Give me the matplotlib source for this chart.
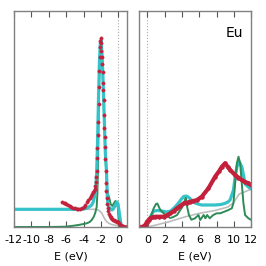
import numpy as np
import matplotlib
matplotlib.use("Agg")
import matplotlib.pyplot as plt

# ---- valence band (left panel) ----
# experiment (red dots)
e_exp_vb = [-6.45, -6.3, -6.15, -6.0, -5.8, -5.6, -5.4, -5.2, -5.0, -4.8, -4.6, -4.4, -4.2, -4.0,
            -3.8, -3.6, -3.45, -3.3, -3.15, -3.0, -2.9, -2.8, -2.72, -2.65, -2.58, -2.53, -2.49,
            -2.45, -2.42, -2.37, -2.33, -2.28, -2.24, -2.20, -2.16, -2.12, -2.08, -2.04, -2.0,
            -1.96, -1.92, -1.87, -1.83, -1.79, -1.75, -1.71, -1.67, -1.63, -1.59, -1.55, -1.51,
            -1.47, -1.43, -1.39, -1.35, -1.30, -1.25, -1.2, -1.1, -1.0, -0.9, -0.8, -0.7, -0.6,
            -0.5, -0.4, -0.3, -0.2, -0.1, 0.0, 0.1, 0.2, 0.3, 0.4, 0.5, 0.6, 0.7, 0.8, 0.9, 1.0]
i_exp_vb = [25, 24, 23.7, 23, 22, 21.2, 20.3, 19.5, 19, 18.2, 17.7, 18, 19, 20.5,
            22.5, 25, 27, 29.5, 31.5, 33.5, 35, 36.5, 38.5, 41, 45, 50, 56,
            69, 79, 92, 105, 123, 140, 156, 170, 180, 186, 189, 184,
            176, 170, 163, 155, 144, 137, 127, 112, 99, 90, 80, 68,
            56, 44, 36, 29, 23, 19, 16, 13, 11, 10, 9, 8.3, 7.5,
            6.8, 6, 5.6, 5.4, 5.3, 5, 3.8, 2.4, 1.6, 1.1, 0.7, 0.5, 0.3, 0.2, 0.1, 0.1]

# theory total (cyan)
e_tot_vb = [-12, -6, -5, -4.5, -4.0, -3.6, -3.3, -3.07, -2.9, -2.76, -2.6, -2.5, -2.4, -2.3,
            -2.2, -2.1, -2.0, -1.9, -1.8, -1.7, -1.6, -1.5, -1.4, -1.33, -1.28, -1.2, -1.1,
            -0.95, -0.75, -0.6, -0.45, -0.3, -0.17, -0.05, 0.1, 0.2, 0.3, 0.5, 1.0]
i_tot_vb = [17.7, 17.7, 17.7, 17.7, 18, 19, 20.5, 22, 25, 30, 40, 55, 85, 125,
            160, 182, 187, 175, 155, 128, 100, 73, 60, 45, 30, 22, 20,
            18.7, 17, 18, 20.3, 22.5, 25, 23, 14, 8, 2, 0, 0]

# theory spectral (green)
e_pes_vb = [-12, -8, -6.15, -5.4, -4.61, -4.0, -3.64, -3.3, -3.07, -2.85, -2.68, -2.5, -2.42,
            -2.35, -2.3, -2.2, -2.1, -2.02, -1.9, -1.8, -1.7, -1.6, -1.5, -1.4, -1.3, -1.2,
            -1.05, -0.9, -0.7, -0.5, -0.35, -0.2, -0.08, 0.02, 0.1, 1.0]
i_pes_vb = [0, 0, 0.3, 1, 2, 3, 3.7, 5, 7, 10, 13.7, 20, 33,
            60, 95, 150, 180, 186, 170, 150, 125, 98, 72, 52, 38, 33,
            29, 23, 21, 24, 26, 23, 20, 8, 0, 0]

# background (gray)
e_bg_vb = [-12, -2.6, -2.3, -2.1, -1.9, -1.7, -1.5, -1.3, -1.1, -0.8, -0.5, -0.2, 0.1, 0.4, 1.0]
i_bg_vb = [17.7, 17.7, 17, 15.5, 13.7, 10, 7, 5, 3.7, 2.5, 2, 1.5, 0.8, 0.3, 0]

# ---- conduction band (right panel) ----
e_exp_cb = [-1, -0.7, -0.42, -0.2, -0.04, 0.15, 0.34, 0.6, 0.92, 1.4, 1.89, 2.3, 2.65, 3.05,
            3.43, 3.8, 4.2, 4.6, 4.97, 5.3, 5.74, 6.28, 7.05, 7.82, 8.3, 8.6, 8.98, 9.3, 9.55,
            10.13, 10.5, 10.9, 11.3, 11.67, 12]
i_exp_cb = [0, 0, 0.7, 2.5, 5.3, 7, 8.7, 9.8, 10.3, 10.3, 10.3, 11.8, 13.7, 16,
            18.7, 21, 23.7, 24.5, 25.3, 26, 27, 30.3, 38.7, 50.3, 56, 60.3, 63.7, 60, 57,
            52, 49.5, 47, 45, 43.7, 42]

e_tot_cb = [-1, -0.5, -0.04, 0.34, 0.73, 1.2, 1.7, 2.2, 2.7, 3.2, 3.6, 3.93, 4.2, 4.5, 4.8,
            5.08, 5.5, 6.05, 6.28, 7.0, 7.82, 8.5, 8.98, 9.3, 9.55, 9.94, 10.13, 10.33, 10.6,
            10.9, 11.09, 11.28, 11.67, 12]
i_tot_cb = [0, 0, 0.5, 10, 16, 16.5, 16, 15, 16, 20, 24, 28, 30.5, 31, 29.5,
            27, 24, 22.5, 22, 22, 22, 22.5, 23.7, 25, 27, 37, 50, 60, 65.3,
            60.3, 52, 43, 40, 38]

e_pes_cb = [-1, -0.1, 0.3, 0.73, 1.0, 1.15, 1.5, 2.08, 2.65, 3.0, 3.43, 3.8, 4.1, 4.3, 4.43,
            4.6, 4.8, 5.08, 5.5, 5.9, 6.1, 6.5, 6.7, 6.9, 7.2, 7.6, 8.0, 8.4, 8.8, 9.36, 9.75,
            9.94, 10.13, 10.33, 10.52, 10.71, 10.9, 11.09, 11.28, 11.67, 12]
i_pes_cb = [0, 0.5, 8, 18.7, 23, 23.5, 17, 12, 9, 10, 12, 17, 21, 26, 29,
            20, 12, 7.3, 8.7, 12, 7, 12, 8.7, 12, 8.7, 12, 13.7, 13.7, 15, 17, 18.7,
            24, 43.7, 63.7, 70.3, 63.7, 43.7, 23.7, 12, 8.7, 7]

e_bg_cb = [-1, 0, 1, 2.4, 4.3, 5.9, 7.8, 9.3, 9.9, 10.3, 10.6, 11.2, 12]
i_bg_cb = [0, 0, 2, 5, 10, 13.5, 16.5, 20, 24, 29, 33, 35, 38]

cyan = "#35c3c9"
green = "#2e8b57"
red = "#c3203c"
gray = "#bdbdbd"
spine = "#808080"

fig = plt.figure(figsize=(2.66, 2.66), dpi=100)
ax1 = fig.add_axes([0.0526, 0.1466, 0.4244, 0.812])
ax2 = fig.add_axes([0.5214, 0.1466, 0.4234, 0.812])

def style(ax, xlim, ticks):
    ax.set_xlim(*xlim)
    ax.set_ylim(0, 216)
    ax.set_xticks(ticks)
    ax.set_xticklabels([str(t) for t in ticks])
    ax.set_yticks([])
    ax.tick_params(axis="x", direction="in", top=True, length=4, width=0.8,
                   color="#555555", labelsize=8, pad=5.5)
    for s in ax.spines.values():
        s.set_color(spine)
        s.set_linewidth(1.0)
    ax.axvline(0, color="#aaaaaa", ls=":", lw=0.8, zorder=0)
    ax.set_xlabel("E (eV)", fontsize=8, labelpad=5)

ax1.plot(e_bg_vb, i_bg_vb, color=gray, lw=1.2)
ax1.plot(e_pes_vb, i_pes_vb, color=green, lw=1.4)
ax1.plot(e_tot_vb, i_tot_vb, color=cyan, lw=2.3)
ax1.plot(e_exp_vb, i_exp_vb, "o", color=red, ms=2.4, mec=red, mew=0.3)
style(ax1, (-12, 0.97), list(range(-12, 1, 2)))

ax2.plot(e_bg_cb, i_bg_cb, color=gray, lw=1.2)
ax2.plot(e_tot_cb, i_tot_cb, color=cyan, lw=2.3)
ax2.plot(e_pes_cb, i_pes_cb, color=green, lw=1.4)
ax2.plot(e_exp_cb, i_exp_cb, color=red, lw=3.0, marker="o", ms=2.2)
style(ax2, (-1, 12), list(range(0, 13, 2)))
ax2.text(0.93, 0.9, "Eu", transform=ax2.transAxes, ha="right", va="center", fontsize=10)

fig.savefig("out.png", dpi=100)
